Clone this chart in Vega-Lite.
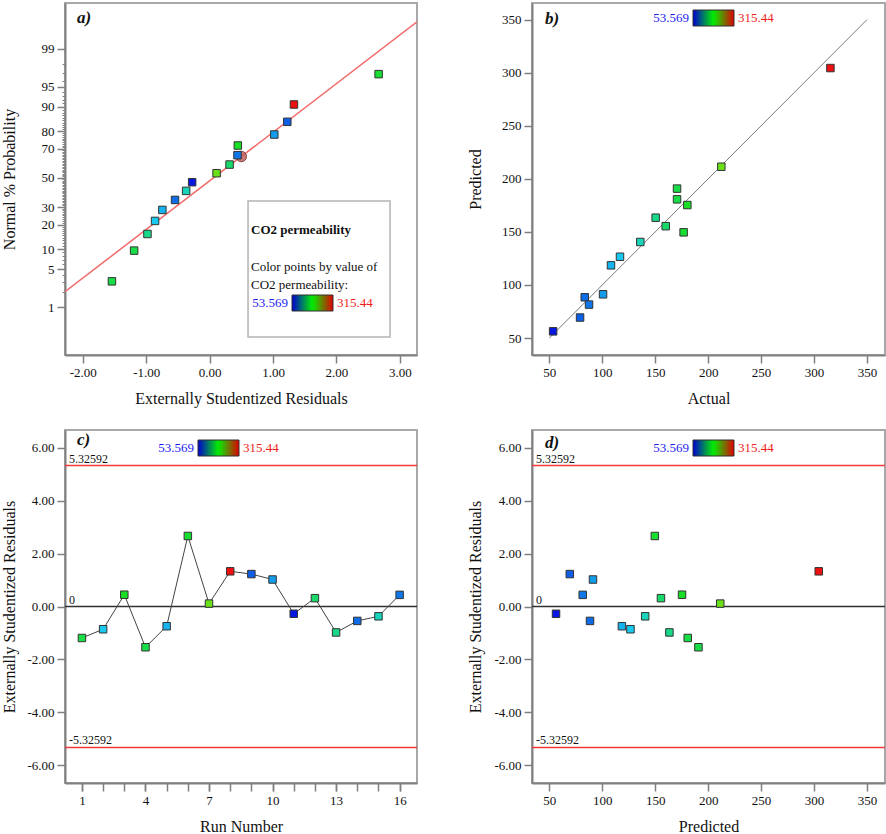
{
  "$schema": "https://vega.github.io/schema/vega-lite/v6.json",
  "background": "white",
  "padding": {"left": 0, "top": 2, "right": 0, "bottom": 0},
  "columns": 2,
  "spacing": {"row": 75, "column": 115},
  "bounds": "flush",
  "config": {
    "font": "Liberation Serif",
    "view": {"stroke": "#a8a8a8", "strokeWidth": 2},
    "axis": {
      "domainColor": "#808080", "domainWidth": 2, "tickColor": "#808080", "tickWidth": 1.5, "tickSize": 8,
      "labelFont": "Liberation Serif", "labelFontSize": 13, "labelColor": "#111111", "labelPadding": 3,
      "labelOverlap": false, "labelFlush": false,
      "titleFont": "Liberation Serif", "titleFontSize": 16, "titleFontWeight": "normal", "titleColor": "#111111",
      "grid": false
    },
    "legend": {"gradientHorizontalMinLength": 10, "gradientHorizontalMaxLength": 500, "gradientThickness": 16}
  },
  "resolve": {"scale": {"x": "independent", "y": "independent", "fill": "independent", "stroke": "independent", "color": "independent"}},
  "datasets": {
    "runs": [
      {"run": 1, "actual": 170.6, "predicted": 180.7, "residual": -1.19, "normal_z": -1.31},
      {"run": 2, "actual": 116.7, "predicted": 126.6, "residual": -0.86, "normal_z": -0.775},
      {"run": 3, "actual": 180.3, "predicted": 175.3, "residual": 0.445, "normal_z": 0.583},
      {"run": 4, "actual": 170.6, "predicted": 190.8, "residual": -1.54, "normal_z": -1.863},
      {"run": 5, "actual": 108.2, "predicted": 118.5, "residual": -0.745, "normal_z": -0.577},
      {"run": 6, "actual": 176.8, "predicted": 149.6, "residual": 2.665, "normal_z": 1.869},
      {"run": 7, "actual": 212.4, "predicted": 211.4, "residual": 0.11, "normal_z": 0.084},
      {"run": 8, "actual": 315.44, "predicted": 304.4, "residual": 1.33, "normal_z": 1.322},
      {"run": 9, "actual": 79.0, "predicted": 69.3, "residual": 1.225, "normal_z": 1.01},
      {"run": 10, "actual": 100.7, "predicted": 91.2, "residual": 1.02, "normal_z": 0.781},
      {"run": 11, "actual": 53.569, "predicted": 56.3, "residual": -0.275, "normal_z": -0.078},
      {"run": 12, "actual": 159.9, "predicted": 155.4, "residual": 0.315, "normal_z": 0.24},
      {"run": 13, "actual": 150.4, "predicted": 163.4, "residual": -0.98, "normal_z": -1.01},
      {"run": 14, "actual": 83.4, "predicted": 88.4, "residual": -0.545, "normal_z": -0.397},
      {"run": 15, "actual": 135.9, "predicted": 140.5, "residual": -0.37, "normal_z": -0.234},
      {"run": 16, "actual": 87.5, "predicted": 81.5, "residual": 0.44, "normal_z": 0.409}
    ],
    "fit": [{"fit_x": -2.28, "fit_z": -2.05}, {"fit_x": 3.27, "fit_z": 2.81}],
    "highlight": [{"residual": 0.5, "normal_z": 0.385}],
    "diag": [{"v": 50}, {"v": 350}],
    "reference_lines": [
      {"value": 5.32592, "label": "5.32592", "kind": "limit"},
      {"value": -5.32592, "label": "-5.32592", "kind": "limit"},
      {"value": 0, "label": "0", "kind": "center"}
    ]
  },
  "concat": [
    {
      "width": 352, "height": 352,
      "resolve": {"axis": {"x": "independent", "y": "independent"}},
      "layer": [
        {
          "layer": [
            {
              "data": {"values": [{}]},
              "mark": {"type": "rect", "fill": "white", "stroke": "#b4b4b4", "strokeWidth": 1.5},
              "encoding": {
                "x": {"datum": 0.606, "type": "quantitative"}, "x2": {"datum": 2.845},
                "y": {"datum": -0.416, "type": "quantitative"}, "y2": {"datum": -2.866}
              }
            },
            {
              "data": {"name": "fit"},
              "mark": {"type": "line", "color": "#f26a6a", "strokeWidth": 1.5, "clip": true},
              "encoding": {
                "x": {"field": "fit_x", "type": "quantitative", "title": "Externally Studentized Residuals"},
                "y": {"field": "fit_z", "type": "quantitative", "title": "Normal % Probability"}
              }
            },
            {
              "data": {"name": "highlight"},
              "mark": {"type": "point", "shape": "circle", "filled": true, "size": 110, "fill": "#c46060", "stroke": "#6a3030", "strokeWidth": 1, "opacity": 0.85},
              "encoding": {
                "x": {"field": "residual", "type": "quantitative", "title": "Externally Studentized Residuals"},
                "y": {"field": "normal_z", "type": "quantitative", "title": "Normal % Probability"}
              }
            },
            {
              "data": {"name": "runs"},
              "mark": {"type": "point", "shape": "square", "filled": true, "size": 56, "stroke": "#333333", "strokeWidth": 1, "opacity": 1},
              "encoding": {
                "x": {"field": "residual", "type": "quantitative", "title": "Externally Studentized Residuals",
                  "scale": {"domain": [-2.28, 3.27], "nice": false, "zero": false},
                  "axis": {"values": [-2, -1, 0, 1, 2, 3], "labelExpr": "(datum.value < 0 ? '-' : '') + format(abs(datum.value), '.2f')", "titleY": 43, "titleBaseline": "middle"}},
                "y": {"field": "normal_z", "type": "quantitative", "title": "Normal % Probability",
                  "scale": {"domain": [-3.19, 3.15], "nice": false, "zero": false},
                  "axis": {"values": [-2.3263, -1.2816, -0.5244, 0.5244, 1.2816, 2.3263], "labelExpr": "format(cumulativeNormal(datum.value) * 100, '.0f')", "titleX": -56, "titleBaseline": "middle"}},
                "fill": {"field": "actual", "type": "quantitative", "legend": null,
                  "scale": {"domain": [53.569, 119.037, 184.505, 249.972, 315.44], "range": ["#0818e0", "#18d0f0", "#18e018", "#d8e018", "#ec1010"], "interpolate": "rgb"}}
              }
            },
            {
              "data": {"values": [{"panel": "a)"}]},
              "mark": {"type": "text", "align": "left", "baseline": "alphabetic", "fontSize": 17, "fontWeight": "bold", "fontStyle": "italic", "font": "Liberation Serif", "color": "#111111"},
              "encoding": {"x": {"datum": -2.09, "type": "quantitative"}, "y": {"datum": 2.79, "type": "quantitative"}, "text": {"field": "panel"}}
            },
            {
              "data": {"values": [{"note": "CO2 permeability"}]},
              "mark": {"type": "text", "align": "left", "baseline": "alphabetic", "fontSize": 13, "fontWeight": "bold", "font": "Liberation Serif", "color": "#111111"},
              "encoding": {"x": {"datum": 0.653, "type": "quantitative"}, "y": {"datum": -1.011, "type": "quantitative"}, "text": {"field": "note"}}
            },
            {
              "data": {"values": [{"note": "Color points by value of"}]},
              "mark": {"type": "text", "align": "left", "baseline": "alphabetic", "fontSize": 13, "font": "Liberation Serif", "color": "#111111"},
              "encoding": {"x": {"datum": 0.653, "type": "quantitative"}, "y": {"datum": -1.677, "type": "quantitative"}, "text": {"field": "note"}}
            },
            {
              "data": {"values": [{"note": "CO2 permeability:"}]},
              "mark": {"type": "text", "align": "left", "baseline": "alphabetic", "fontSize": 13, "font": "Liberation Serif", "color": "#111111"},
              "encoding": {"x": {"datum": 0.653, "type": "quantitative"}, "y": {"datum": -2.001, "type": "quantitative"}, "text": {"field": "note"}}
            },
            {
              "data": {"name": "runs"},
              "mark": {"type": "point", "opacity": 0},
              "encoding": {
                "x": {"field": "residual", "type": "quantitative", "title": "Externally Studentized Residuals"},
                "y": {"field": "normal_z", "type": "quantitative", "title": "Normal % Probability"},
                "color": {"field": "actual", "type": "quantitative",
                  "scale": {"domain": [53.569, 184.505, 315.44], "range": ["#0000d0", "#00f000", "#e00000"], "interpolate": "rgb"},
                  "legend": {"orient": "none", "legendX": 227, "legendY": 292, "direction": "horizontal", "title": null, "gradientLength": 41, "gradientThickness": 16, "gradientStrokeColor": "#303030", "gradientStrokeWidth": 1, "values": [53.569, 315.44], "labelExpr": "datum.value < 100 ? '53.569' : '315.44'", "labelFont": "Liberation Serif", "labelFontSize": 13, "labelOverlap": false, "padding": 0, "zindex": 1,
                    "encode": {"labels": {"update": {"x": {"signal": "datum.value < 100 ? -4 : 45"}, "y": {"value": 8}, "align": {"signal": "datum.value < 100 ? 'right' : 'left'"}, "baseline": {"value": "middle"}, "fill": {"signal": "datum.value < 100 ? '#1c1cf0' : '#f01c1c'"}}}}}
                }
              }
            }
          ]
        },
        {
          "data": {"name": "runs"},
          "mark": {"type": "point", "opacity": 0},
          "encoding": {
            "x": {"field": "residual", "type": "quantitative", "axis": null},
            "y": {"field": "normal_z", "type": "quantitative",
              "axis": {"orient": "left", "values": [-1.6449, -0.8416, 0, 0.8416, 1.6449], "labelExpr": "format(cumulativeNormal(datum.value) * 100, '.0f')", "domain": false, "title": null}}
          }
        },
        {
          "data": {"name": "runs"},
          "mark": {"type": "point", "opacity": 0},
          "encoding": {
            "x": {"field": "residual", "type": "quantitative", "axis": null},
            "y": {"field": "normal_z", "type": "quantitative",
              "axis": {"orient": "left", "labels": false, "domain": false, "tickSize": 3, "tickWidth": 1, "title": null,
                "values": [-2.3263, -2.0537, -1.8808, -1.7507, -1.6449, -1.5548, -1.4758, -1.4051, -1.3408, -1.2816, -1.2265, -1.175, -1.1264, -1.0803, -1.0364, -0.9945, -0.9542, -0.9154, -0.8779, -0.8416, -0.8064, -0.7722, -0.7388, -0.7063, -0.6745, -0.6433, -0.6128, -0.5828, -0.5534, -0.5244, -0.4959, -0.4677, -0.4399, -0.4125, -0.3853, -0.3585, -0.3319, -0.3055, -0.2793, -0.2533, -0.2275, -0.2019, -0.1764, -0.151, -0.1257, -0.1004, -0.0753, -0.0502, -0.0251, 0, 0.0251, 0.0502, 0.0753, 0.1004, 0.1257, 0.151, 0.1764, 0.2019, 0.2275, 0.2533, 0.2793, 0.3055, 0.3319, 0.3585, 0.3853, 0.4125, 0.4399, 0.4677, 0.4959, 0.5244, 0.5534, 0.5828, 0.6128, 0.6433, 0.6745, 0.7063, 0.7388, 0.7722, 0.8064, 0.8416, 0.8779, 0.9154, 0.9542, 0.9945, 1.0364, 1.0803, 1.1264, 1.175, 1.2265, 1.2816, 1.3408, 1.4051, 1.4758, 1.5548, 1.6449, 1.7507, 1.8808, 2.0537, 2.3263]}},
            "stroke": {"field": "actual", "type": "quantitative",
              "scale": {"domain": [53.569, 184.505, 315.44], "range": ["#0000d0", "#00f000", "#e00000"], "interpolate": "rgb"},
              "legend": {"orient": "none", "legendX": 133, "legendY": 7, "direction": "horizontal", "title": null, "gradientLength": 41, "gradientThickness": 16, "gradientStrokeColor": "#303030", "gradientStrokeWidth": 1, "values": [53.569, 315.44], "labelExpr": "datum.value < 100 ? '53.569' : '315.44'", "labelFont": "Liberation Serif", "labelFontSize": 13, "labelOverlap": false, "padding": 0, "zindex": 1,
                "encode": {"labels": {"update": {"x": {"signal": "datum.value < 100 ? -4 : 45"}, "y": {"value": 8}, "align": {"signal": "datum.value < 100 ? 'right' : 'left'"}, "baseline": {"value": "middle"}, "fill": {"signal": "datum.value < 100 ? '#1c1cf0' : '#f01c1c'"}}}}}
            }
          }
        }
      ]
    },
    {
      "width": 353, "height": 352,
      "layer": [
        {
          "data": {"name": "diag"},
          "mark": {"type": "line", "color": "#7a7a7a", "strokeWidth": 1},
          "encoding": {
            "x": {"field": "v", "type": "quantitative", "title": "Actual"},
            "y": {"field": "v", "type": "quantitative", "title": "Predicted"}
          }
        },
        {
          "data": {"name": "runs"},
          "mark": {"type": "point", "shape": "square", "filled": true, "size": 56, "stroke": "#333333", "strokeWidth": 1, "opacity": 1},
          "encoding": {
            "x": {"field": "actual", "type": "quantitative", "title": "Actual",
              "scale": {"domain": [33.6, 367], "nice": false, "zero": false},
              "axis": {"values": [50, 100, 150, 200, 250, 300, 350], "titleY": 43, "titleBaseline": "middle"}},
            "y": {"field": "predicted", "type": "quantitative", "title": "Predicted",
              "scale": {"domain": [34, 365.7], "nice": false, "zero": false},
              "axis": {"values": [50, 100, 150, 200, 250, 300, 350], "titleX": -57, "titleBaseline": "middle"}},
            "fill": {"field": "actual", "type": "quantitative", "legend": null,
              "scale": {"domain": [53.569, 119.037, 184.505, 249.972, 315.44], "range": ["#0818e0", "#18d0f0", "#18e018", "#d8e018", "#ec1010"], "interpolate": "rgb"}}
          }
        },
        {
          "data": {"name": "runs"},
          "mark": {"type": "point", "opacity": 0},
          "encoding": {
            "x": {"field": "actual", "type": "quantitative", "title": "Actual"},
            "y": {"field": "predicted", "type": "quantitative", "title": "Predicted"},
            "stroke": {"field": "actual", "type": "quantitative",
              "scale": {"domain": [53.569, 184.505, 315.44], "range": ["#0000d0", "#00f000", "#e00000"], "interpolate": "rgb"},
              "legend": {"orient": "none", "legendX": 161, "legendY": 7, "direction": "horizontal", "title": null, "gradientLength": 41, "gradientThickness": 16, "gradientStrokeColor": "#303030", "gradientStrokeWidth": 1, "values": [53.569, 315.44], "labelExpr": "datum.value < 100 ? '53.569' : '315.44'", "labelFont": "Liberation Serif", "labelFontSize": 13, "labelOverlap": false, "padding": 0, "zindex": 1,
                "encode": {"labels": {"update": {"x": {"signal": "datum.value < 100 ? -4 : 45"}, "y": {"value": 8}, "align": {"signal": "datum.value < 100 ? 'right' : 'left'"}, "baseline": {"value": "middle"}, "fill": {"signal": "datum.value < 100 ? '#1c1cf0' : '#f01c1c'"}}}}}
            }
          }
        },
        {
          "data": {"values": [{"panel": "b)"}]},
          "mark": {"type": "text", "align": "left", "baseline": "alphabetic", "fontSize": 17, "fontWeight": "bold", "fontStyle": "italic", "font": "Liberation Serif", "color": "#111111"},
          "encoding": {"x": {"datum": 45.9, "type": "quantitative"}, "y": {"datum": 345.9, "type": "quantitative"}, "text": {"field": "panel"}}
        }
      ]
    },
    {
      "width": 352, "height": 353,
      "resolve": {"axis": {"x": "independent", "y": "independent"}},
      "layer": [
        {
          "layer": [
            {
              "data": {"name": "reference_lines"},
              "mark": {"type": "rule", "strokeWidth": 1.6},
              "encoding": {
                "y": {"field": "value", "type": "quantitative", "title": "Externally Studentized Residuals"},
                "color": {"field": "kind", "type": "nominal", "legend": null, "scale": {"domain": ["center", "limit"], "range": ["#303030", "#f03a3a"]}}
              }
            },
            {
              "data": {"name": "reference_lines"},
              "mark": {"type": "text", "align": "left", "baseline": "alphabetic", "dy": -3, "fontSize": 12, "font": "Liberation Serif", "color": "#111111"},
              "encoding": {
                "x": {"datum": 0.389, "type": "quantitative"},
                "y": {"field": "value", "type": "quantitative", "title": "Externally Studentized Residuals"},
                "text": {"field": "label"}
              }
            },
            {
              "data": {"name": "runs"},
              "mark": {"type": "line", "color": "#444444", "strokeWidth": 1},
              "encoding": {
                "x": {"field": "run", "type": "quantitative", "title": "Run Number"},
                "y": {"field": "residual", "type": "quantitative", "title": "Externally Studentized Residuals"}
              }
            },
            {
              "data": {"name": "runs"},
              "mark": {"type": "point", "shape": "square", "filled": true, "size": 56, "stroke": "#333333", "strokeWidth": 1, "opacity": 1},
              "encoding": {
                "x": {"field": "run", "type": "quantitative", "title": "Run Number",
                  "scale": {"domain": [0.2, 16.82], "nice": false, "zero": false},
                  "axis": {"values": [1, 4, 7, 10, 13, 16], "titleY": 43, "titleBaseline": "middle"}},
                "y": {"field": "residual", "type": "quantitative", "title": "Externally Studentized Residuals",
                  "scale": {"domain": [-6.67, 6.67], "nice": false, "zero": false},
                  "axis": {"values": [-6, -4, -2, 0, 2, 4, 6], "labelExpr": "(datum.value < 0 ? '-' : '') + format(abs(datum.value), '.2f')", "titleX": -56, "titleBaseline": "middle"}},
                "fill": {"field": "actual", "type": "quantitative", "legend": null,
                  "scale": {"domain": [53.569, 119.037, 184.505, 249.972, 315.44], "range": ["#0818e0", "#18d0f0", "#18e018", "#d8e018", "#ec1010"], "interpolate": "rgb"}}
              }
            },
            {
              "data": {"name": "runs"},
              "mark": {"type": "point", "opacity": 0},
              "encoding": {
                "x": {"field": "run", "type": "quantitative", "title": "Run Number"},
                "y": {"field": "residual", "type": "quantitative", "title": "Externally Studentized Residuals"},
                "stroke": {"field": "actual", "type": "quantitative",
                  "scale": {"domain": [53.569, 184.505, 315.44], "range": ["#0000d0", "#00f000", "#e00000"], "interpolate": "rgb"},
                  "legend": {"orient": "none", "legendX": 133, "legendY": 10, "direction": "horizontal", "title": null, "gradientLength": 41, "gradientThickness": 16, "gradientStrokeColor": "#303030", "gradientStrokeWidth": 1, "values": [53.569, 315.44], "labelExpr": "datum.value < 100 ? '53.569' : '315.44'", "labelFont": "Liberation Serif", "labelFontSize": 13, "labelOverlap": false, "padding": 0, "zindex": 1,
                    "encode": {"labels": {"update": {"x": {"signal": "datum.value < 100 ? -4 : 45"}, "y": {"value": 8}, "align": {"signal": "datum.value < 100 ? 'right' : 'left'"}, "baseline": {"value": "middle"}, "fill": {"signal": "datum.value < 100 ? '#1c1cf0' : '#f01c1c'"}}}}}
                }
              }
            },
            {
              "data": {"values": [{"panel": "c)"}]},
              "mark": {"type": "text", "align": "left", "baseline": "alphabetic", "fontSize": 17, "fontWeight": "bold", "fontStyle": "italic", "font": "Liberation Serif", "color": "#111111"},
              "encoding": {"x": {"datum": 0.77, "type": "quantitative"}, "y": {"datum": 6.12, "type": "quantitative"}, "text": {"field": "panel"}}
            }
          ]
        },
        {
          "data": {"name": "runs"},
          "mark": {"type": "point", "opacity": 0},
          "encoding": {
            "x": {"field": "run", "type": "quantitative",
              "axis": {"orient": "bottom", "values": [1, 2, 3, 4, 5, 6, 7, 8, 9, 10, 11, 12, 13, 14, 15, 16], "labels": false, "domain": false, "title": null}},
            "y": {"field": "residual", "type": "quantitative", "axis": null}
          }
        }
      ]
    },
    {
      "width": 353, "height": 353,
      "layer": [
        {
          "data": {"name": "reference_lines"},
          "mark": {"type": "rule", "strokeWidth": 1.6},
          "encoding": {
            "y": {"field": "value", "type": "quantitative", "title": "Externally Studentized Residuals"},
            "color": {"field": "kind", "type": "nominal", "legend": null, "scale": {"domain": ["center", "limit"], "range": ["#303030", "#f03a3a"]}}
          }
        },
        {
          "data": {"name": "reference_lines"},
          "mark": {"type": "text", "align": "left", "baseline": "alphabetic", "dy": -3, "fontSize": 12, "font": "Liberation Serif", "color": "#111111"},
          "encoding": {
            "x": {"datum": 37.4, "type": "quantitative"},
            "y": {"field": "value", "type": "quantitative", "title": "Externally Studentized Residuals"},
            "text": {"field": "label"}
          }
        },
        {
          "data": {"name": "runs"},
          "mark": {"type": "point", "shape": "square", "filled": true, "size": 56, "stroke": "#333333", "strokeWidth": 1, "opacity": 1},
          "encoding": {
            "x": {"field": "predicted", "type": "quantitative", "title": "Predicted",
              "scale": {"domain": [33.6, 367], "nice": false, "zero": false},
              "axis": {"values": [50, 100, 150, 200, 250, 300, 350], "titleY": 43, "titleBaseline": "middle"}},
            "y": {"field": "residual", "type": "quantitative", "title": "Externally Studentized Residuals",
              "scale": {"domain": [-6.67, 6.67], "nice": false, "zero": false},
              "axis": {"values": [-6, -4, -2, 0, 2, 4, 6], "labelExpr": "(datum.value < 0 ? '-' : '') + format(abs(datum.value), '.2f')", "titleX": -57, "titleBaseline": "middle"}},
            "fill": {"field": "actual", "type": "quantitative", "legend": null,
              "scale": {"domain": [53.569, 119.037, 184.505, 249.972, 315.44], "range": ["#0818e0", "#18d0f0", "#18e018", "#d8e018", "#ec1010"], "interpolate": "rgb"}}
          }
        },
        {
          "data": {"name": "runs"},
          "mark": {"type": "point", "opacity": 0},
          "encoding": {
            "x": {"field": "predicted", "type": "quantitative", "title": "Predicted"},
            "y": {"field": "residual", "type": "quantitative", "title": "Externally Studentized Residuals"},
            "stroke": {"field": "actual", "type": "quantitative",
              "scale": {"domain": [53.569, 184.505, 315.44], "range": ["#0000d0", "#00f000", "#e00000"], "interpolate": "rgb"},
              "legend": {"orient": "none", "legendX": 161, "legendY": 10, "direction": "horizontal", "title": null, "gradientLength": 41, "gradientThickness": 16, "gradientStrokeColor": "#303030", "gradientStrokeWidth": 1, "values": [53.569, 315.44], "labelExpr": "datum.value < 100 ? '53.569' : '315.44'", "labelFont": "Liberation Serif", "labelFontSize": 13, "labelOverlap": false, "padding": 0, "zindex": 1,
                "encode": {"labels": {"update": {"x": {"signal": "datum.value < 100 ? -4 : 45"}, "y": {"value": 8}, "align": {"signal": "datum.value < 100 ? 'right' : 'left'"}, "baseline": {"value": "middle"}, "fill": {"signal": "datum.value < 100 ? '#1c1cf0' : '#f01c1c'"}}}}}
            }
          }
        },
        {
          "data": {"values": [{"panel": "d)"}]},
          "mark": {"type": "text", "align": "left", "baseline": "alphabetic", "fontSize": 17, "fontWeight": "bold", "fontStyle": "italic", "font": "Liberation Serif", "color": "#111111"},
          "encoding": {"x": {"datum": 45.9, "type": "quantitative"}, "y": {"datum": 5.98, "type": "quantitative"}, "text": {"field": "panel"}}
        }
      ]
    }
  ]
}
